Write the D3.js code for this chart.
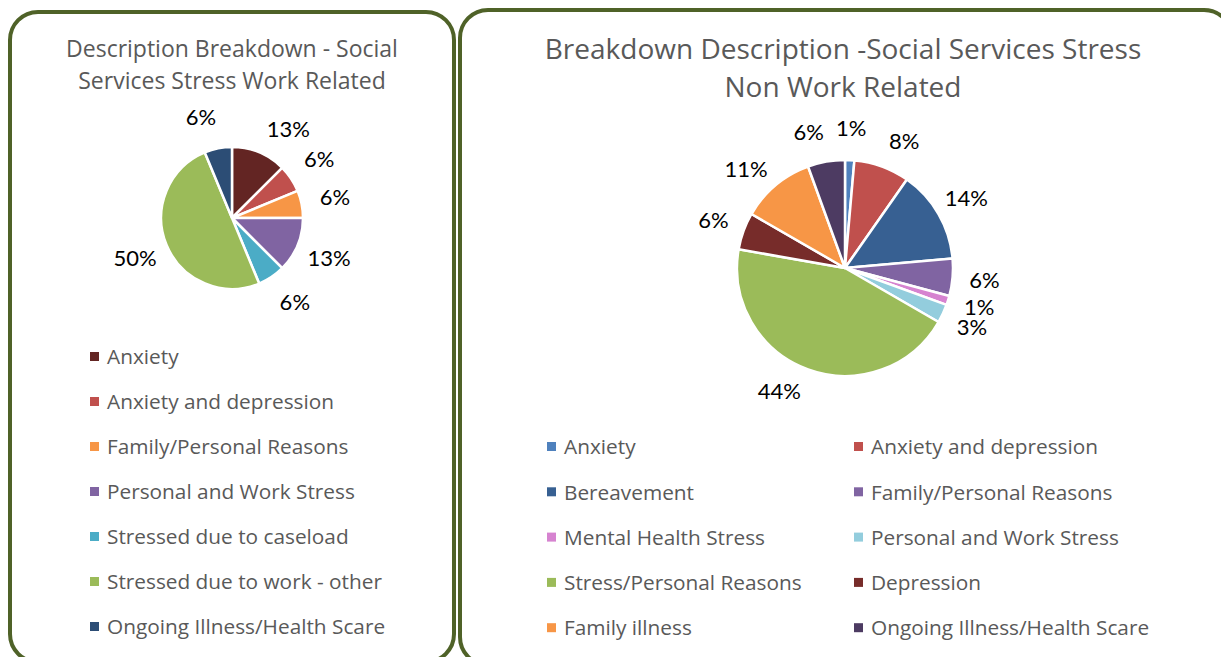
<!DOCTYPE html>
<html>
<head>
<meta charset="utf-8">
<script src="https://cdn.jsdelivr.net/npm/d3@7"></script>
<style>
  body { margin: 0; background: #fff; }
  svg { display: block; }
  text { font-family: "Open Sans", Lato, sans-serif; }
  text.lbl { font-family: Lato, "Open Sans", sans-serif; }
</style>
</head>
<body>
<div id="container"><svg></svg></div>
<script>
let width = 1221;
let height = 657;

// left chart: work related
let workCats = ["Anxiety", "Anxiety and depression", "Family/Personal Reasons",
    "Personal and Work Stress", "Stressed due to caseload", "Stressed due to work - other",
    "Ongoing Illness/Health Scare"];
let workVals = [2, 1, 1, 2, 1, 8, 1];
let workColors = ["#632523", "#c0504d", "#f79646", "#8064a2", "#4bacc6", "#9bbb59", "#2c4d75"];

// right chart: non work related
let nonCats = ["Anxiety", "Anxiety and depression", "Bereavement", "Family/Personal Reasons",
    "Mental Health Stress", "Personal and Work Stress", "Stress/Personal Reasons", "Depression",
    "Family illness", "Ongoing Illness/Health Scare"];
let nonVals = [1, 6, 10, 4, 1, 2, 32, 4, 8, 4];
let nonColors = ["#4f81bd", "#c0504d", "#376092", "#8064a2", "#d683d0", "#93cddd",
    "#9bbb59", "#772c2a", "#f79646", "#4d3b62"];

let svg = d3.select('#container').select('svg')
    .attr('width', width)
    .attr('height', height);

// panel borders
svg.append("rect")
    .attr("x", 10).attr("y", 12).attr("width", 444).attr("height", 650)
    .attr("rx", 28).attr("fill", "none")
    .attr("stroke", "#4f6228").attr("stroke-width", 4);
svg.append("rect")
    .attr("x", 460).attr("y", 10).attr("width", 772).attr("height", 655)
    .attr("rx", 28).attr("fill", "none")
    .attr("stroke", "#4f6228").attr("stroke-width", 4);

function draw_pie(opts) {
    let g = svg.append("g");

    // title
    let title = g.append("text")
        .attr("text-anchor", "middle")
        .attr("fill", "#595959")
        .attr("font-size", opts.titleSize);
    opts.title.forEach((t, i) => {
        title.append("tspan")
            .attr("x", opts.titleX)
            .attr("y", opts.titleY + i * opts.titleGap)
            .text(t);
    });

    let pie = d3.pie().sort(null).value(d => d.v);
    let arcs = pie(opts.cats.map((c, i) => ({c: c, v: opts.vals[i], col: opts.colors[i]})));
    let total = d3.sum(opts.vals);

    let arc = d3.arc().innerRadius(0).outerRadius(opts.r);

    let pg = g.append("g").attr("transform", `translate(${opts.cx},${opts.cy})`);
    pg.selectAll("path")
        .data(arcs)
        .join("path")
        .attr("d", arc)
        .attr("fill", d => d.data.col)
        .attr("stroke", "#fff")
        .attr("stroke-width", 2.5)
        .attr("stroke-linejoin", "round");

    // percent labels outside the slices
    pg.selectAll("text")
        .data(arcs)
        .join("text")
        .attr("class", "lbl")
        .attr("transform", (d, i) => {
            let a = (d.startAngle + d.endAngle) / 2 + (opts.nudge ? opts.nudge[i] : 0) * Math.PI / 180;
            let rr = opts.r + opts.lblOff;
            return `translate(${rr * Math.sin(a)},${-rr * Math.cos(a)})`;
        })
        .attr("text-anchor", "middle")
        .attr("dy", "0.35em")
        .attr("font-size", 22)
        .attr("fill", "#000")
        .text(d => Math.round(d.data.v / total * 100) + "%");

    // legend
    let lg = g.append("g");
    let items = lg.selectAll("g")
        .data(arcs)
        .join("g")
        .attr("transform", (d, i) => {
            let col = i % opts.legCols;
            let row = Math.floor(i / opts.legCols);
            return `translate(${opts.legX + col * opts.legColW},${opts.legY + row * opts.legRowH})`;
        });
    items.append("rect")
        .attr("x", 0).attr("y", -5)
        .attr("width", 9).attr("height", 9)
        .attr("fill", d => d.data.col);
    items.append("text")
        .attr("x", 17)
        .attr("dy", "0.35em")
        .attr("font-size", 20.8)
        .attr("fill", "#595959")
        .text(d => d.data.c);
}

draw_pie({
    title: ["Description Breakdown - Social", "Services Stress Work Related"],
    titleX: 232, titleY: 57, titleGap: 32, titleSize: 23,
    cats: workCats, vals: workVals, colors: workColors,
    cx: 232, cy: 218, r: 71, lblOff: 34,
    nudge: [10, 0, 0, 0, -3, 0, -6],
    legX: 90, legY: 357, legCols: 1, legColW: 0, legRowH: 45
});

draw_pie({
    title: ["Breakdown Description -Social Services Stress", "Non Work Related"],
    titleX: 843, titleY: 59, titleGap: 38, titleSize: 28,
    cats: nonCats, vals: nonVals, colors: nonColors,
    cx: 845, cy: 268, r: 108, lblOff: 32,
    nudge: [0, 5, 0, 0, -1, 0, 8, 0, -5, -5],
    legX: 547, legY: 447, legCols: 2, legColW: 307, legRowH: 45.3
});
</script>
</body>
</html>
